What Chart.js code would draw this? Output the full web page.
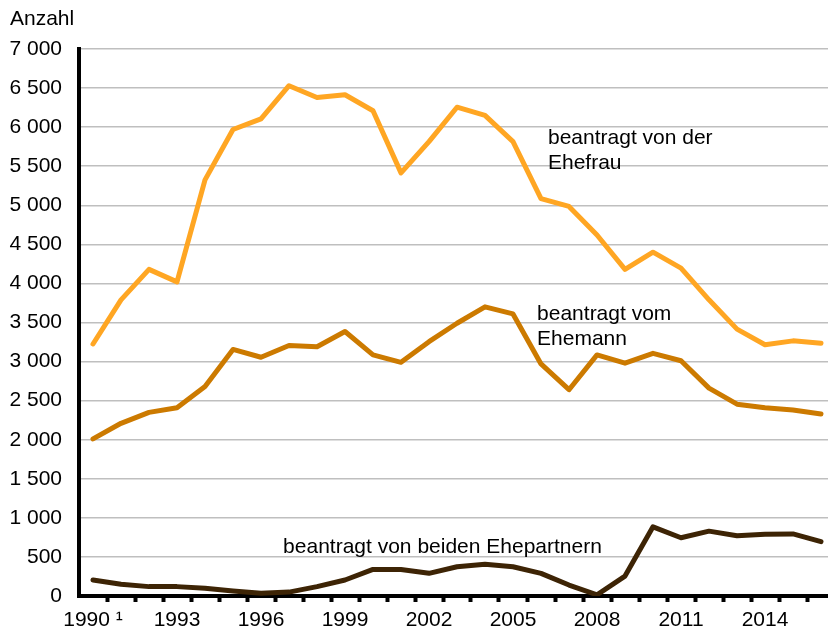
<!DOCTYPE html>
<html>
<head>
<meta charset="utf-8">
<script src="https://cdn.jsdelivr.net/npm/chart.js@4/dist/chart.umd.min.js"></script>
<style>
  html, body { margin: 0; padding: 0; background: #fff; overflow: hidden; }
  #wrap { width: 828px; height: 631px; }
</style>
</head>
<body>
<div id="wrap"><canvas id="chart" width="828" height="631"></canvas></div>
<script>
// Ehescheidungen nach Antragsteller, 1990-2016
var years = [1990, 1991, 1992, 1993, 1994, 1995, 1996, 1997, 1998, 1999, 2000, 2001, 2002, 2003,
             2004, 2005, 2006, 2007, 2008, 2009, 2010, 2011, 2012, 2013, 2014, 2015, 2016];
var vonEhefrau = [3225, 3790, 4180, 4020, 5325, 5970, 6105, 6530, 6380, 6415, 6210, 5415, 5815, 6255,
                  6150, 5815, 5085, 4985, 4620, 4180, 4400, 4195, 3790, 3415, 3215, 3265, 3235];
var vomEhemann = [2010, 2210, 2350, 2410, 2680, 3155, 3055, 3205, 3190, 3385, 3085, 2990, 3255, 3490,
                  3700, 3610, 2970, 2640, 3085, 2980, 3105, 3010, 2660, 2455, 2410, 2380, 2330];
var vonBeiden = [205, 150, 120, 120, 100, 65, 35, 50, 120, 205, 340, 340, 290, 375,
                 405, 375, 290, 140, 15, 255, 885, 745, 830, 770, 790, 795, 695];
var yTicks = [0, 500, 1000, 1500, 2000, 2500, 3000, 3500, 4000, 4500, 5000, 5500, 6000, 6500, 7000];
var labeledYears = [1990, 1993, 1996, 1999, 2002, 2005, 2008, 2011, 2014];

var FONT = '"Liberation Sans", Arial, sans-serif';
var FSIZE = 21;

function points(values) {
  return years.map(function(y, i) { return { x: y, y: values[i] }; });
}

function fmt(v) {
  if (v < 1000) return String(v);
  var rest = String(v % 1000);
  while (rest.length < 3) rest = '0' + rest;
  return Math.floor(v / 1000) + ' ' + rest;
}

// text labels next to the lines, anchored in data coordinates
var notes = [
  { lines: ['beantragt von der', 'Ehefrau'], x: 2006.25, y: 5860 },
  { lines: ['beantragt vom', 'Ehemann'], x: 2005.86, y: 3610 },
  { lines: ['beantragt von beiden Ehepartnern'], x: 1996.79, y: 630 }
];

var textPlugin = {
  id: 'texts',
  afterDraw: function(chart) {
    var ctx = chart.ctx;
    var xs = chart.scales.x, ys = chart.scales.y;
    ctx.save();
    ctx.fillStyle = '#000';
    ctx.font = FSIZE + 'px ' + FONT;
    ctx.textBaseline = 'middle';
    ctx.textAlign = 'left';
    ctx.fillText('Anzahl', 10, 19);
    notes.forEach(function(n) {
      var px = xs.getPixelForValue(n.x);
      var py = ys.getPixelForValue(n.y);
      n.lines.forEach(function(t, i) {
        ctx.fillText(t, px, py + i * 25);
      });
    });
    ctx.restore();
  }
};

function lineSet(label, values, color) {
  return {
    label: label,
    data: points(values),
    borderColor: color,
    backgroundColor: color,
    borderWidth: 5,
    pointRadius: 0,
    tension: 0,
    borderCapStyle: 'round',
    borderJoinStyle: 'round'
  };
}

new Chart(document.getElementById('chart'), {
  type: 'line',
  data: {
    datasets: [
      lineSet('beantragt von der Ehefrau', vonEhefrau, '#FFA623'),
      lineSet('beantragt vom Ehemann', vomEhemann, '#CC7A00'),
      lineSet('beantragt von beiden Ehepartnern', vonBeiden, '#3D2405')
    ]
  },
  options: {
    responsive: false,
    animation: false,
    layout: { padding: { top: 49, right: 0, left: 0, bottom: 0 } },
    plugins: { legend: { display: false }, tooltip: { enabled: false } },
    scales: {
      x: {
        type: 'linear',
        min: 1989.5,
        max: 2016.25,
        afterFit: function(scale) { scale.height = 35; },
        afterBuildTicks: function(scale) {
          var t = [];
          years.forEach(function(y) {
            t.push({ value: y });
            if (y < 2016) t.push({ value: y + 0.5 });
          });
          scale.ticks = t;
        },
        border: { color: '#000', width: 4 },
        grid: {
          drawOnChartArea: false,
          drawTicks: true,
          tickLength: 6,
          tickWidth: 4,
          tickColor: function(c) {
            return (c.tick && c.tick.value % 1 !== 0) ? '#000' : 'rgba(0,0,0,0)';
          }
        },
        ticks: {
          autoSkip: false,
          maxRotation: 0,
          padding: 6,
          color: '#000',
          font: { family: FONT, size: FSIZE },
          callback: function(v) {
            if (v % 1 !== 0) return '';
            if (labeledYears.indexOf(v) < 0) return '';
            return v === 1990 ? '1990 \u00B9' : String(v);
          }
        }
      },
      y: {
        min: 0,
        max: 7000,
        afterFit: function(scale) { scale.width = 79; },
        afterBuildTicks: function(scale) {
          scale.ticks = yTicks.map(function(v) { return { value: v }; });
        },
        border: { color: '#000', width: 4 },
        grid: { color: '#BFBFBF', lineWidth: 1.5, drawTicks: false },
        ticks: {
          padding: 17,
          color: '#000',
          font: { family: FONT, size: FSIZE },
          callback: function(v) { return fmt(v); }
        }
      }
    }
  },
  plugins: [textPlugin]
});
</script>
</body>
</html>
